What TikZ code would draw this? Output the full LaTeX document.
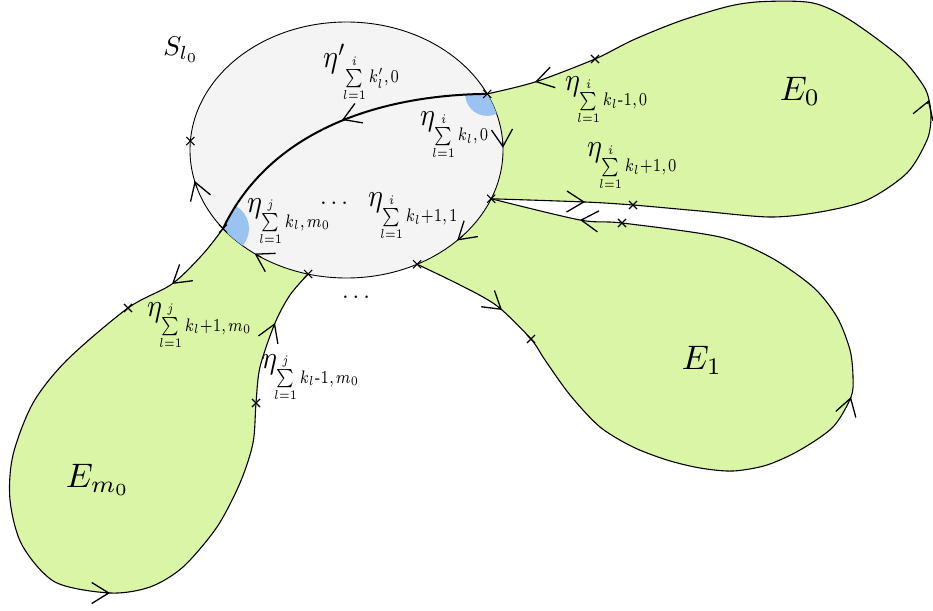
\documentclass[tikz,border=0pt]{standalone}
\usepackage{amsmath}
\usepackage{exscale}
\usepackage{graphicx}
\usetikzlibrary{arrows.meta,shapes.misc,calc}
\definecolor{leaf}{RGB}{218,245,166}
\definecolor{disc}{RGB}{244,244,244}
\definecolor{patch}{RGB}{155,195,242}
\newcommand{\etalabel}[4]{\scalebox{2.8}[3.2]{$\eta#1$}\kern-3pt\raisebox{-15pt}{\scalebox{2.1}[2.6]{$\scriptstyle\sum\limits_{l=1}^{#2}#3,\mkern2mu#4$}}}
\begin{document}
\begin{tikzpicture}[x=1pt,y=-1pt,
  edge/.style={line width=1.1pt, line join=round},
  barb/.style={line width=1.1pt, -{Straight Barb[length=17pt,width=21pt,line width=1.3pt]}},
  xmark/.style={cross out, draw, line width=1.1pt, minimum size=7pt, inner sep=0pt},
  lab/.style={inner sep=0pt},
  elab/.style={inner sep=0pt, anchor=west}]
\useasboundingbox (0,0) rectangle (933,610);
\coordinate (O) at (346.5,150);
\coordinate (A) at ($(O)+(-26:156.5 and 128)$);
\coordinate (C) at ($(O)+(22.4:156.5 and 128)$);
\coordinate (D) at ($(O)+(63.2:156.5 and 128)$);
\coordinate (F) at ($(O)+(104.2:156.5 and 128)$);
\coordinate (B) at ($(O)+(142.1:156.5 and 128)$);
\coordinate (L) at ($(O)+(184:156.5 and 128)$);

% E0
\draw[edge, fill=leaf] plot[smooth] coordinates {(A) (535,82) (595,59) (633,40) (680,21) (730,6) (765,1.5) (813,3) (850,20) (900,57) (923,85) (929,100) (931,118) (927,140) (907,173) (867,200) (820,212) (770,217) (700,211) (633,205) (585,202) (C)} -- (420,150) -- cycle;
% E1
\draw[edge, fill=leaf] plot[smooth] coordinates {(C) (580,220) (622,223) (720,237) (770,257) (813,287) (837,317) (850,350) (853,377) (851,397) (833,427) (800,450) (767,465) (733,471) (700,468) (667,460) (633,447) (600,427) (570,395) (545,360) (531,339) (502,310) (483,297) (450,280) (D)} -- (430,200) -- cycle;
% Em0
\draw[edge, fill=leaf] plot[smooth] coordinates {(B) (203,254) (172,284) (128,308) (67,360) (33,403) (13,455) (10,500) (22,545) (55,582) (110,593) (150,587) (183,567) (217,527) (240,483) (253,443) (256,403) (260,367) (275,323) (290,295) (F)} -- (330,200) -- cycle;

% S
\draw[line width=0.9pt, fill=disc] (O) ellipse [x radius=156.5, y radius=128];
\begin{scope}
\clip (O) ellipse [x radius=156.5, y radius=128];
\clip (A) .. controls (380,95) and (270,130) .. (B) -- ($(B)+(0,200)$) -- (720,430) -- (720,94) -- cycle;
\fill[patch] (A) circle [radius=22];
\fill[patch] (B) circle [radius=26];
\end{scope}
\draw[line width=2pt] (A) .. controls (380,95) and (270,130) .. (B);

% arrows
\draw[barb, line width=2pt] (345.7,118.5) -- (342,120);
\draw[barb] (538.9,81) -- (535,82);
\draw[barb] ($(O)+(-4:156.5 and 128)$) -- ($(O)+(-1:156.5 and 128)$);
\draw[barb] (581,201.9) -- (585,202);
\draw[barb] (584,220.3) -- (580,220);
\draw[barb] ($(O)+(42:156.5 and 128)$) -- ($(O)+(45:156.5 and 128)$);
\draw[barb] (498.9,307.5) -- (502,310);
\draw[barb] (849.8,401) -- (851,397);
\draw[barb] (927.6,104) -- (929,100);
\draw[barb] (106,593) -- (110,593);
\draw[barb] (273.5,326.7) -- (275,323);
\draw[barb] (175.1,281.5) -- (172,284);
\draw[barb] ($(O)+(123:156.5 and 128)$) -- ($(O)+(126:156.5 and 128)$);
\draw[barb] ($(O)+(163:156.5 and 128)$) -- ($(O)+(166:156.5 and 128)$);

% crosses
\node[xmark] (xA) at (A) {};
\node[xmark] (xB) at (B) {};
\node[xmark] (xC) at (C) {};
\node[xmark] (xD) at (D) {};
\node[xmark] (xF) at (F) {};
\node[xmark] (xL) at (L) {};
\node[xmark] (x1) at (595,59) {};
\node[xmark] (x2) at (633,205) {};
\node[xmark] (x3) at (622,223) {};
\node[xmark] (x4) at (531,339) {};
\node[xmark] (x5) at (128,308) {};
\node[xmark] (x6) at (256,403) {};

% labels
\node[elab] (t1) at (323,73) {\etalabel{'}{i}{k'_l}{0}};
\node[elab] (t2) at (420,136) {\etalabel{}{i}{k_l}{0}};
\node[elab] (t3) at (565,101) {\etalabel{}{i}{k_l\text{-}1}{0}};
\node[elab] (t4) at (587,167) {\etalabel{}{i}{k_l+1}{0}};
\node[elab] (t5) at (247,222) {\etalabel{}{j}{k_l}{m_0}};
\node[elab] (t7) at (368,217) {\etalabel{}{i}{k_l+1}{1}};
\node[elab] (t9) at (147,326) {\etalabel{}{j}{k_l+1}{m_0}};
\node[elab] (t10) at (262,378) {\etalabel{}{j}{k_l\text{-}1}{m_0}};
\node[lab] (d1) at (336,203) {\scalebox{2.4}{$\dots$}};
\node[lab] (d2) at (358,297) {\scalebox{2.4}{$\dots$}};
\node[lab] (e0) at (800,91) {\scalebox{3.4}{$E_0$}};
\node[lab] (e1) at (702,360) {\scalebox{3.4}{$E_1$}};
\node[lab] (em) at (98,480) {\scalebox{3.4}{$E_{m_0}$}};
\node[lab] (s) at (181,50) {\scalebox{2.7}{$S_{l_0}$}};
\end{tikzpicture}
\end{document}
